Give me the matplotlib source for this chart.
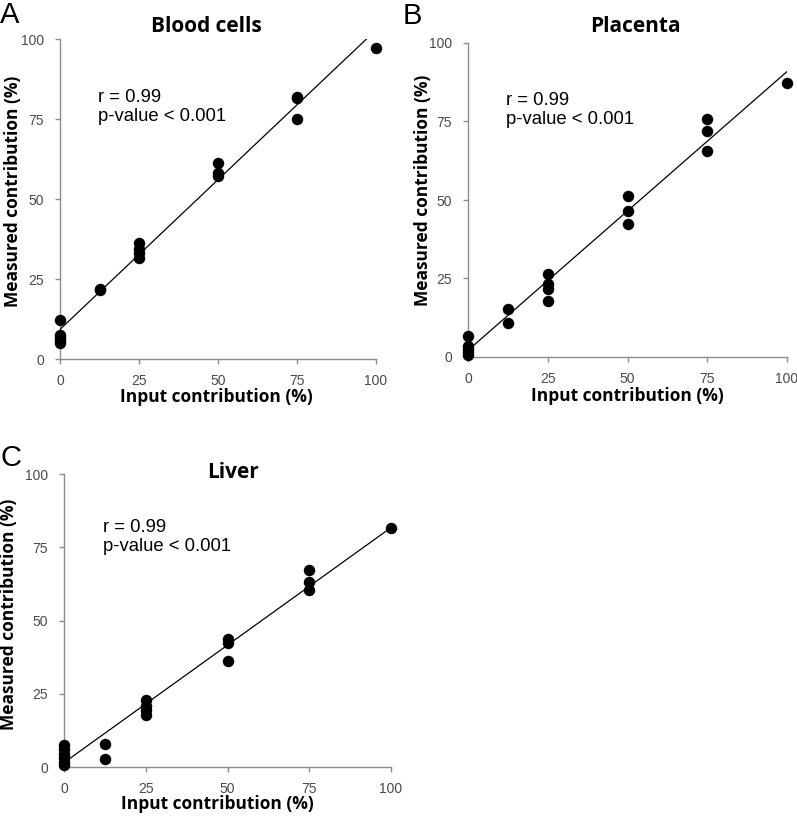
import numpy as np
import matplotlib
matplotlib.use("Agg")
import matplotlib.pyplot as plt

# input contribution (%) and measured contribution (%) for each tissue
blood_x = [0, 0, 0, 0, 0, 12.5, 12.5, 25, 25, 25, 25, 50, 50, 50, 75, 75, 75, 100]
blood_y = [12.2, 7.5, 6.5, 5.8, 5.0, 22.0, 21.5, 36.3, 34.5, 33.0, 31.5, 61.3, 58.0, 57.3, 81.9, 81.5, 75.0, 97.1]

placenta_x = [0, 0, 0, 0, 0, 12.5, 12.5, 25, 25, 25, 25, 50, 50, 50, 75, 75, 75, 100]
placenta_y = [6.7, 3.5, 2.5, 1.5, 0.5, 15.4, 10.8, 26.5, 23.4, 21.8, 17.7, 51.4, 46.5, 42.3, 75.9, 71.9, 65.5, 87.2]

liver_x = [0, 0, 0, 0, 0, 0, 12.5, 12.5, 25, 25, 25, 25, 50, 50, 50, 75, 75, 75, 100]
liver_y = [7.5, 6.0, 4.5, 3.2, 1.8, 0.6, 7.9, 2.8, 22.7, 20.8, 19.5, 17.7, 43.7, 42.4, 36.3, 67.2, 63.1, 60.4, 81.5]

ticks = [0, 25, 50, 75, 100]

W, H = 797, 822
fig = plt.figure(figsize=(W / 100, H / 100), dpi=100)

def px_axes(x0, y0, x1, y1):
    # pixel box (left, top, right, bottom) -> figure fraction axes
    return fig.add_axes([x0 / W, 1 - y1 / H, (x1 - x0) / W, (y1 - y0) / H])

def panel(ax, xs, ys, xlab_pos, ylab_pos):
    ax.scatter(xs, ys, s=68, color="black", zorder=3, clip_on=False, linewidths=0)
    k, b = np.polyfit(xs, ys, 1)
    fx = np.array([0, 100])
    ax.plot(fx, k * fx + b, color="black", lw=0.9, zorder=4)
    ax.set_xlim(0, 100)
    ax.set_ylim(0, 100)
    ax.set_xticks(ticks)
    ax.set_yticks(ticks)
    for s in ["top", "right"]:
        ax.spines[s].set_visible(False)
    for s in ["left", "bottom"]:
        ax.spines[s].set_color("#8c8c8c")
        ax.spines[s].set_linewidth(1.0)
    ax.tick_params(direction="out", length=3.5, width=1.0, color="#8c8c8c",
                   labelsize=10, labelcolor="#4a4a4a")
    ax.tick_params(axis="x", pad=7)
    ax.tick_params(axis="y", pad=8)
    for t in ax.get_xticklabels() + ax.get_yticklabels():
        t.set_fontfamily("Liberation Sans")
    ax.set_xlabel("Input contribution (%)", fontsize=12.5, fontweight="bold",
                  family="Open Sans")
    ax.set_ylabel("Measured contribution (%)", fontsize=12.5, fontweight="bold",
                  family="Open Sans")
    ax.xaxis.set_label_coords(*xlab_pos)
    ax.yaxis.set_label_coords(*ylab_pos)
    ax.xaxis.label.set_va("center")
    ax.yaxis.label.set_va("center")
    ax.text(0.12, 0.845, "r = 0.99\np-value < 0.001", transform=ax.transAxes,
            fontsize=13.3, family="Liberation Sans", va="top", linespacing=1.15)

axA = px_axes(60, 39, 376, 359)
panel(axA, blood_x, blood_y, (0.495, -0.12), (-0.149, 0.525))
axB = px_axes(468, 43, 787, 357)
panel(axB, placenta_x, placenta_y, (0.5, -0.125), (-0.141, 0.532))
axC = px_axes(64, 474, 391, 767)
panel(axC, liver_x, liver_y, (0.468, -0.125), (-0.168, 0.522))

title_kw = dict(fontsize=15, fontweight="bold", family="Open Sans", ha="center", va="center")
fig.text(206 / W, 1 - 27 / H, "Blood cells", **title_kw)
fig.text(635 / W, 1 - 27 / H, "Placenta", **title_kw)
fig.text(233 / W, 1 - 472 / H, "Liver", **title_kw)

for lx, ly, lab in [(0, 15, "A"), (403, 16, "B"), (0, 458, "C")]:
    fig.text(lx / W, 1 - ly / H, lab, fontsize=21, family="Liberation Sans",
             ha="left", va="center")

fig.savefig("out.png", dpi=100)
